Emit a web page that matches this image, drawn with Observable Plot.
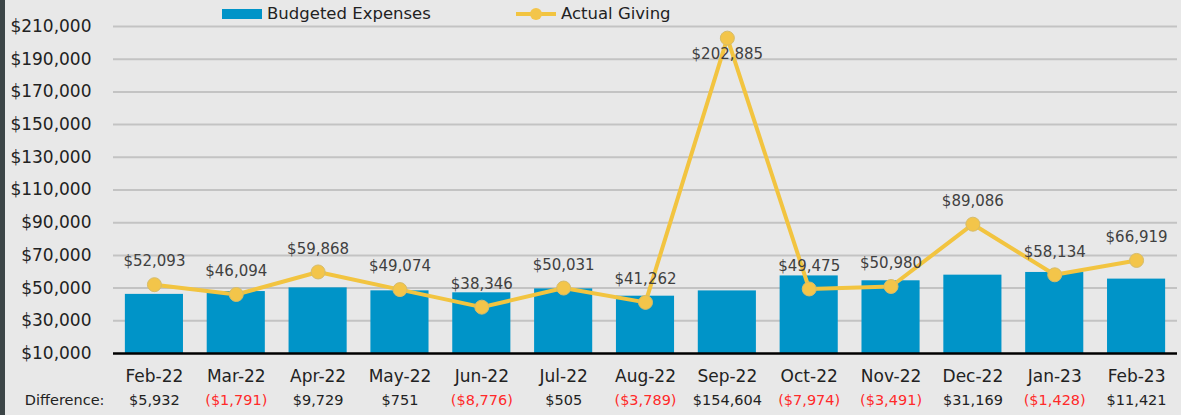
<!DOCTYPE html>
<html>
<head>
<meta charset="utf-8">
<script src="https://cdn.jsdelivr.net/npm/d3@7"></script>
<script src="https://cdn.jsdelivr.net/npm/@observablehq/plot@0.6"></script>
<style>
  html, body { margin: 0; padding: 0; background: #e8e8e8; }
  #wrap { position: relative; width: 1181px; height: 415px; overflow: hidden; background: #e8e8e8; }
  #strip { position: absolute; left: 0; top: 0; width: 5px; height: 415px; background: #3c4547; z-index: 2; }
  #legend { position: absolute; left: 0; top: 0; width: 1181px; height: 25px; font-family: "DejaVu Sans", sans-serif; font-size: 16.5px; color: #222; z-index: 2; }
  .sw { position: absolute; }
  .lt { position: absolute; top: 4px; line-height: 20px; }
</style>
</head>
<body>
<div id="wrap">
  <div id="strip"></div>
  <div id="legend">
    <div class="sw" style="left:222px; top:9px; width:40px; height:10px; background:#0094c8;"></div>
    <div class="lt" style="left:267px;">Budgeted Expenses</div>
    <div class="sw" style="left:516px; top:12px; width:40px; height:4px; background:#f2c440;"></div>
    <div class="sw" style="left:530px; top:8px; width:12px; height:12px; border-radius:50%; background:#f3c54a;"></div>
    <div class="lt" style="left:561px;">Actual Giving</div>
  </div>
  <div id="chart"></div>
</div>
<script>
const months = ["Feb-22","Mar-22","Apr-22","May-22","Jun-22","Jul-22","Aug-22","Sep-22","Oct-22","Nov-22","Dec-22","Jan-23","Feb-23"];
const budgeted = [46161,47885,50139,48323,47122,49526,45051,48281,57449,54471,57917,59562,55498];
const actual = [52093,46094,59868,49074,38346,50031,41262,202885,49475,50980,89086,58134,66919];
const difference = [5932,-1791,9729,751,-8776,505,-3789,154604,-7974,-3491,31169,-1428,11421];
const yTicks = [10000,30000,50000,70000,90000,110000,130000,150000,170000,190000,210000];

const data = months.map((m, i) => ({month: m, budget: budgeted[i], actual: actual[i], diff: difference[i]}));
const fmt = d3.format("$,");
const diffFmt = v => v < 0 ? "(" + fmt(-v) + ")" : fmt(v);
const peak = d3.max(actual);

const chart = Plot.plot({
  width: 1181,
  height: 415,
  marginLeft: 113,
  marginRight: 4,
  marginTop: 26,
  marginBottom: 62,
  style: {background: "transparent", fontFamily: "DejaVu Sans, sans-serif", fontSize: "17px", color: "#222"},
  x: {domain: months, paddingInner: 0.29, paddingOuter: 0.145, round: false, tickSize: 0, tickPadding: 16, label: null},
  y: {domain: [10000, 210000], ticks: yTicks, tickFormat: fmt, tickSize: 0, tickPadding: 22, label: null},
  marks: [
    Plot.ruleY(yTicks.filter(t => t > 10000), {stroke: "#c3c3c3", strokeWidth: 2}),
    Plot.barY(data, {x: "month", y1: 10000, y2: "budget", fill: "#0094c8"}),
    Plot.ruleY([10000], {stroke: "#000", strokeWidth: 2.5}),
    Plot.line(data, {x: "month", y: "actual", stroke: "#f2c440", strokeWidth: 4}),
    Plot.dot(data, {x: "month", y: "actual", r: 7, fill: "#f3c54a", stroke: "#d6bc6a", strokeWidth: 1}),
    Plot.text(data.filter(d => d.actual !== peak), {x: "month", y: "actual", text: d => fmt(d.actual), dy: -23, fill: "#404040", fontSize: 15}),
    Plot.text(data.filter(d => d.actual === peak), {x: "month", y: "actual", text: d => fmt(d.actual), dy: 16, fill: "#404040", fontSize: 15}),
    Plot.text(data, {x: "month", frameAnchor: "bottom", text: d => diffFmt(d.diff), dy: 51, fill: d => d.diff < 0 ? "#ff2a2a" : "#222", fontSize: 14.5}),
    Plot.text(["Difference:"], {frameAnchor: "bottom-left", text: d => d, textAnchor: "end", dx: -9, dy: 51, fill: "#222", fontSize: 14.5})
  ]
});
document.getElementById("chart").appendChild(chart);
</script>
</body>
</html>
